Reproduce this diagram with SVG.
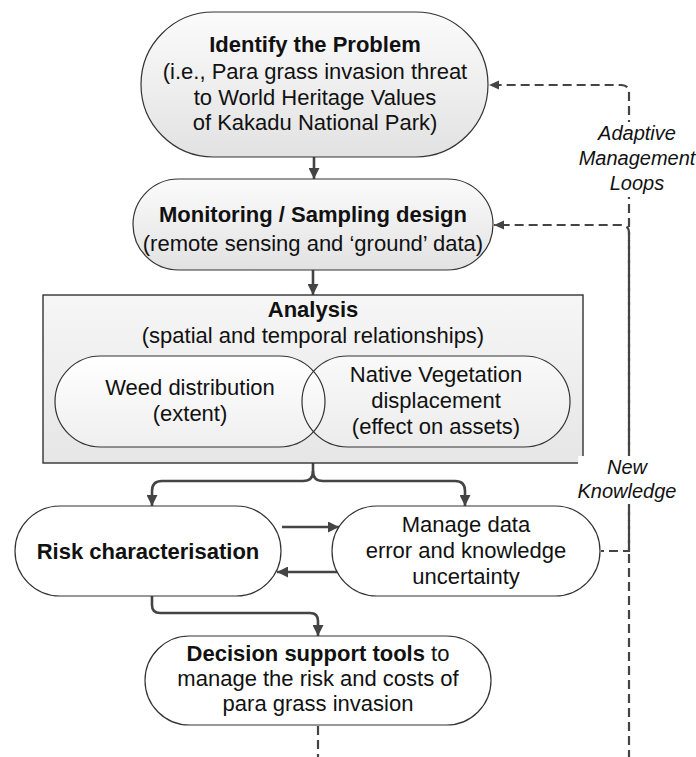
<svg xmlns="http://www.w3.org/2000/svg" width="696" height="757" viewBox="0 0 696 757">
<defs>
<linearGradient id="gGray" x1="0" y1="0" x2="0" y2="1">
<stop offset="0" stop-color="#fbfbfb"/>
<stop offset="1" stop-color="#e2e2e2"/>
</linearGradient>
<linearGradient id="gBox" x1="0" y1="0" x2="0" y2="1">
<stop offset="0" stop-color="#f6f6f6"/>
<stop offset="1" stop-color="#e6e6e6"/>
</linearGradient>
<linearGradient id="gSub" x1="0" y1="0" x2="0" y2="1">
<stop offset="0" stop-color="#ffffff"/>
<stop offset="1" stop-color="#efefef"/>
</linearGradient>
<marker id="arr" viewBox="0 0 10 10" refX="10" refY="5" markerWidth="11" markerHeight="11" markerUnits="userSpaceOnUse" orient="auto">
<path d="M0,0 L10,5 L0,10 z" fill="#444"/>
</marker>
<marker id="arrS" viewBox="0 0 10 10" refX="10" refY="5" markerWidth="10" markerHeight="10" markerUnits="userSpaceOnUse" orient="auto">
<path d="M0,0.5 L10,5 L0,9.5 z" fill="#444"/>
</marker>
</defs>
<style>
text{font-family:"Liberation Sans",Arial,sans-serif;font-size:22px;fill:#111;text-anchor:middle}
.b{font-weight:bold}
.lbl{font-style:italic;font-size:20px}
.node{stroke:#333;stroke-width:1.2}
.solid{fill:none;stroke:#444;stroke-width:2.6}
.dash{fill:none;stroke:#444;stroke-width:2.2;stroke-dasharray:9 5}
</style>
<rect width="696" height="757" fill="#fff"/>

<g id="connectors">
<path class="solid" d="M314,157 V179" marker-end="url(#arr)"/>
<path class="solid" d="M313,270 V295" marker-end="url(#arr)"/>
<path class="solid" d="M313,463 V471 Q313,481 303,481 H162 Q152,481 152,491 V506" marker-end="url(#arr)"/>
<path class="solid" d="M313,471 Q313,481 323,481 H455 Q465,481 465,491 V506" marker-end="url(#arr)"/>
<path class="solid" d="M282,527 H339" marker-end="url(#arr)"/>
<path class="solid" d="M337,572 H277" marker-end="url(#arr)"/>
<path class="solid" d="M152,596 V605 Q152,613 160,613 H310 Q318,613 318,621 V636" marker-end="url(#arr)"/>
<path class="dash" d="M318,726 V762 H629 V93 Q629,85 621,85 H489" marker-end="url(#arrS)"/>
<path class="dash" style="stroke-dashoffset:6" d="M601,551 H629 V233 Q629,225 621,225 H494" marker-end="url(#arrS)"/>
</g>

<g id="identify">
<rect class="node" x="141" y="12" width="347" height="145" rx="72.5" fill="url(#gGray)"/>
<text class="b" x="315" y="52">Identify the Problem</text>
<text x="315" y="79">(i.e., Para grass invasion threat</text>
<text x="315" y="105">to World Heritage Values</text>
<text x="315" y="130">of Kakadu National Park)</text>
</g>

<g id="monitoring">
<rect class="node" x="133" y="179" width="360" height="91" rx="45.5" fill="url(#gGray)"/>
<text class="b" x="313" y="222">Monitoring / Sampling design</text>
<text x="313" y="251">(remote sensing and ‘ground’ data)</text>
</g>

<g id="analysis">
<rect x="43" y="295" width="540" height="168" fill="url(#gBox)" stroke="#333" stroke-width="1.4"/>
<text class="b" x="313" y="317">Analysis</text>
<text x="313" y="343">(spatial and temporal relationships)</text>
<rect x="55" y="356" width="270" height="91" rx="45.5" fill="url(#gSub)"/>
<rect x="302" y="356" width="268" height="91" rx="45.5" fill="url(#gSub)" fill-opacity="0.6"/>
<rect class="node" x="55" y="356" width="270" height="91" rx="45.5" fill="none"/>
<rect class="node" x="302" y="356" width="268" height="91" rx="45.5" fill="none"/>
</g>

<g id="weed">
<text x="190" y="395">Weed distribution</text>
<text x="190" y="421">(extent)</text>
</g>

<g id="native">
<text x="436" y="382">Native Vegetation</text>
<text x="436" y="408">displacement</text>
<text x="436" y="434">(effect on assets)</text>
</g>

<g id="risk">
<rect class="node" x="15" y="506" width="266" height="90" rx="45" fill="#fff"/>
<text class="b" x="148" y="559">Risk characterisation</text>
</g>

<g id="manage">
<rect class="node" x="332" y="506" width="268" height="90" rx="45" fill="#fff"/>
<text x="466" y="532">Manage data</text>
<text x="466" y="558">error and knowledge</text>
<text x="466" y="584">uncertainty</text>
</g>

<g id="decision">
<rect class="node" x="145" y="636" width="346" height="89" rx="44.5" fill="#fff"/>
<text x="318" y="661"><tspan class="b">Decision support tools</tspan> to</text>
<text x="318" y="686">manage the risk and costs of</text>
<text x="318" y="711">para grass invasion</text>
</g>

<g id="labels">
<rect x="580" y="122" width="114" height="75" fill="#fff"/>
<text class="lbl" x="637" y="140">Adaptive</text>
<text class="lbl" x="637" y="165">Management</text>
<text class="lbl" x="637" y="190">Loops</text>
<rect x="578" y="456" width="100" height="48" fill="#fff"/>
<text class="lbl" x="627" y="474">New</text>
<text class="lbl" x="627" y="498">Knowledge</text>
</g>
</svg>
